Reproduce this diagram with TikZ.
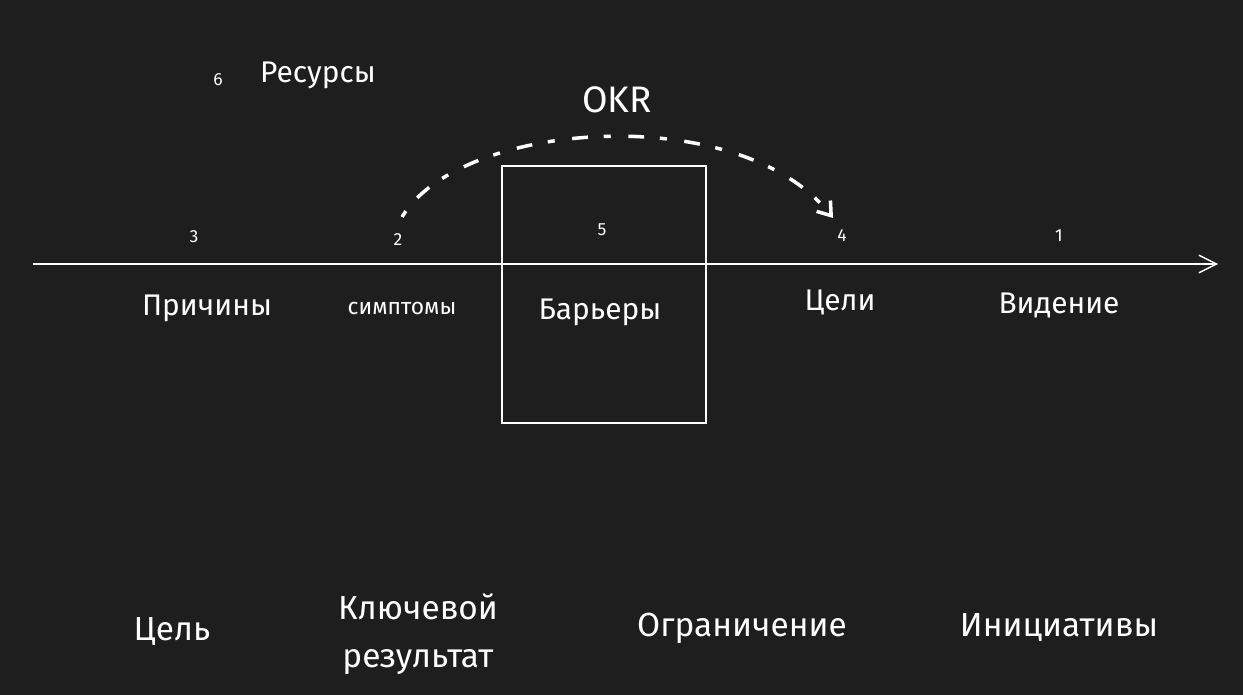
\documentclass[tikz,border=0pt]{standalone}
\usepackage{fontspec}
\setmainfont{Fira Sans}
\usetikzlibrary{arrows.meta}
\definecolor{bg}{HTML}{1E1E1E}
\begin{document}
\begin{tikzpicture}[x=0.02cm,y=-0.02cm,
  lbl/.style={text=white,font=\fontsize{17}{20}\selectfont},
  num/.style={text=white,font=\fontsize{10}{12}\selectfont},
  big/.style={text=white,font=\fontsize{19}{23}\selectfont}]
\fill[bg] (0,0) rectangle (1243,695);
\useasboundingbox (0,0) rectangle (1243,695);
\coordinate (ls) at (33,264);
\coordinate (le) at (1218,264);
\draw[white,line width=0.8pt,-{Straight Barb[length=10pt,width=10pt]}] (ls) -- (le);
\node[draw=white,line width=1.2pt,minimum width=204*0.02cm,minimum height=257*0.02cm,inner sep=0] (box) at (604,294.5) {};
\node[num] (n3) at (194,237) {3};
\node[num] (n2) at (398,240) {2};
\node[num] (n5) at (602,230) {5};
\node[num] (n4) at (842,236) {4};
\node[num] (n1) at (1059,236) {1};
\node[num] (n6) at (218,80) {6};
\node[lbl] (res) at (318,75) {Ресурсы};
\node[text=white,font=\fontsize{21}{25}\selectfont] (okr) at (617,100) {OKR};
\node[lbl] (pr) at (207,308) {Причины};
\node[text=white,font=\fontsize{13}{16}\selectfont] (sym) at (402,308) {симптомы};
\node[lbl] (bar) at (600,312) {Барьеры};
\node[lbl] (cel) at (840,302) {Цели};
\node[lbl] (vid) at (1059,305) {Видение};
\node[big] (c2) at (172,632) {Цель};
\node[big,align=center] (kr) at (418,634) {Ключевой\\[4pt]результат};
\node[big] (og) at (742,628) {Ограничение};
\node[big] (in) at (1059,628) {Инициативы};
\coordinate (a1) at (402,217);
\coordinate (a2) at (833,218);
\draw[white,line width=2pt,dash pattern=on 4pt off 10pt on 9pt off 9pt,
  -{Straight Barb[length=7pt,width=10pt]}]
  (a1) .. controls (460,120) and (740,100) .. (a2);
\end{tikzpicture}
\end{document}
